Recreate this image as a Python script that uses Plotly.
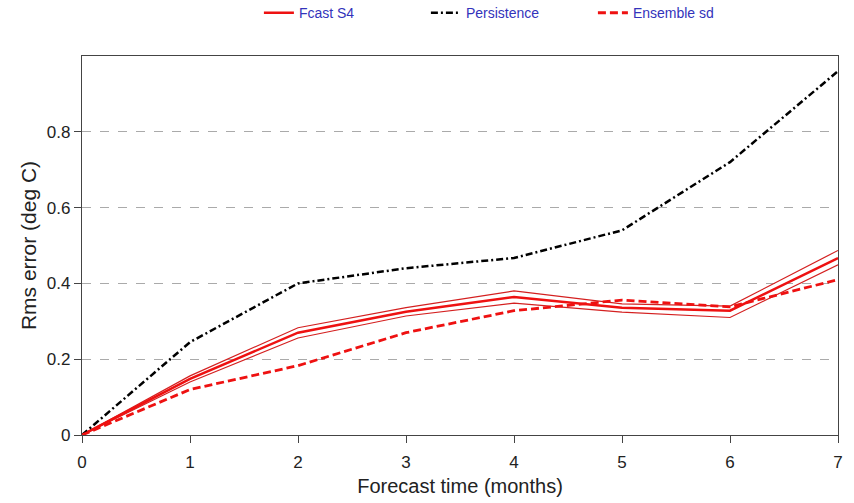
import plotly.graph_objects as go

months = [0, 1, 2, 3, 4, 5, 6, 7]
fcast_s4 = [0, 0.148, 0.270, 0.325, 0.364, 0.336, 0.328, 0.467]
fcast_s4_upper = [0, 0.156, 0.283, 0.336, 0.380, 0.346, 0.340, 0.487]
fcast_s4_lower = [0, 0.140, 0.256, 0.314, 0.348, 0.324, 0.310, 0.449]
persistence = [0, 0.245, 0.400, 0.440, 0.467, 0.540, 0.720, 0.960]
ensemble_sd = [0, 0.120, 0.183, 0.270, 0.328, 0.356, 0.338, 0.410]

x_ticks = [0, 1, 2, 3, 4, 5, 6, 7]
y_ticks = [0, 0.2, 0.4, 0.6, 0.8]
y_tick_text = ["0", "0.2", "0.4", "0.6", "0.8"]

fig = go.Figure()
fig.add_trace(go.Scatter(x=months, y=fcast_s4_upper, mode="lines",
                         line=dict(color="#d42020", width=1.2), showlegend=False, hoverinfo="skip"))
fig.add_trace(go.Scatter(x=months, y=fcast_s4_lower, mode="lines",
                         line=dict(color="#d42020", width=1.2), showlegend=False, hoverinfo="skip"))
fig.add_trace(go.Scatter(x=months, y=fcast_s4, mode="lines", name="Fcast S4",
                         line=dict(color="#ee1111", width=2.5)))
fig.add_trace(go.Scatter(x=months, y=persistence, mode="lines", name="Persistence",
                         line=dict(color="black", width=2.5, dash="7px,3px,2px,3px")))
fig.add_trace(go.Scatter(x=months, y=ensemble_sd, mode="lines", name="Ensemble sd",
                         line=dict(color="#ee1111", width=2.8, dash="8px,4px")))

fig.update_layout(
    width=854, height=503,
    margin=dict(l=82, r=16, t=56, b=68, autoexpand=False),
    paper_bgcolor="white", plot_bgcolor="white",
    font=dict(family="Liberation Sans, Arial, sans-serif", color="#222"),
    legend=dict(orientation="h", x=0.234, xanchor="left", y=1.113, yanchor="middle",
                font=dict(size=14, color="#3333bb"), entrywidth=122, entrywidthmode="pixels",
                bgcolor="rgba(0,0,0,0)"),
    xaxis=dict(range=[0, 7], tickvals=x_ticks, ticks="outside", ticklen=7, tickcolor="#444",
               showline=True, linecolor="#444", linewidth=1.2, mirror=True, showgrid=False,
               zeroline=False, tickfont=dict(size=17), ticklabelstandoff=4,
               title=dict(text="Forecast time (months)", font=dict(size=20), standoff=8)),
    yaxis=dict(range=[0, 1.0], tickvals=y_ticks, ticktext=y_tick_text, ticks="outside", ticklen=7,
               tickcolor="#444", showline=True, linecolor="#444", linewidth=1.2, mirror=True,
               showgrid=True, gridcolor="#aaaaaa", griddash="dash", gridwidth=1,
               zeroline=False, tickfont=dict(size=17),
               title=dict(text="Rms error (deg C)", font=dict(size=21), standoff=4)),
)

fig.write_html("out.html")
